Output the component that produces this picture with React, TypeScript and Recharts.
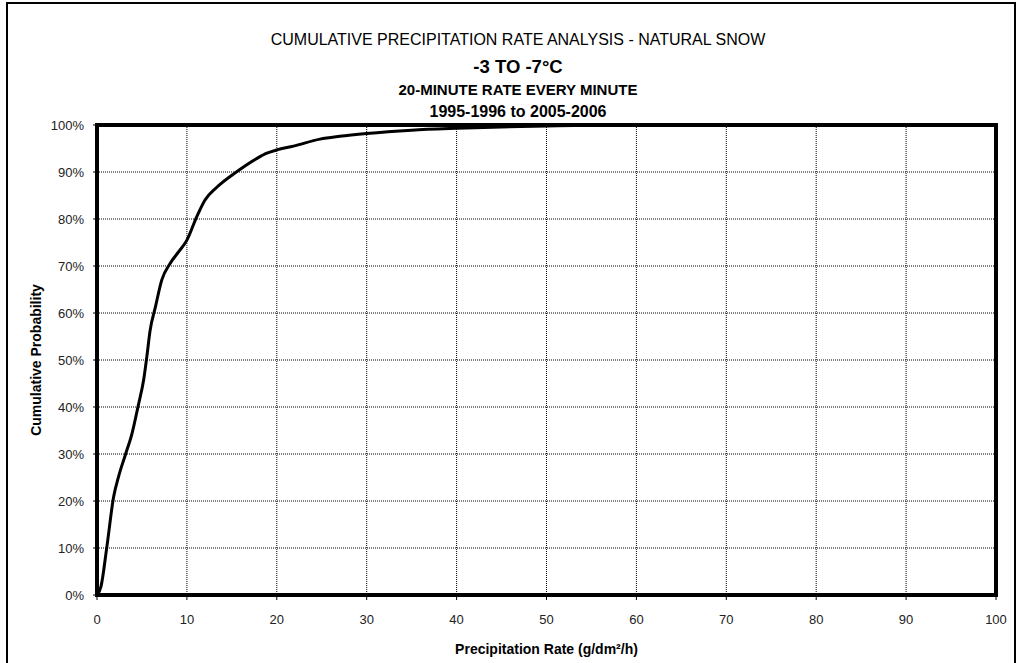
import { CartesianGrid, Line, LineChart, ReferenceArea, XAxis, YAxis } from 'recharts';

// precipitation rate (g/dm²/h) and cumulative probability (%)
const rate = [0, 0.44, 1.1, 1.85, 2.4, 3.15, 3.9, 4.6, 5.2, 5.55, 5.9, 6.5, 7.2, 8.15, 9.07, 10, 11.1, 12, 13.3, 15.5, 17.8, 18.9, 20, 21.85, 24.8, 27, 30, 35, 40, 45, 50, 55, 58];
const probability = [0, 1.8, 10.3, 20.9, 25.2, 29.8, 34.4, 40.4, 45.9, 50.8, 56.2, 61.3, 67, 70.6, 73, 75.5, 80.5, 84, 86.7, 90, 92.9, 94, 94.7, 95.5, 97, 97.6, 98.2, 98.9, 99.3, 99.6, 99.8, 99.95, 100];

const xTicks = [0, 10, 20, 30, 40, 50, 60, 70, 80, 90, 100];
const yTicks = [0, 10, 20, 30, 40, 50, 60, 70, 80, 90, 100];

const titles = [
    'CUMULATIVE PRECIPITATION RATE ANALYSIS - NATURAL SNOW',
    '-3 TO -7°C',
    '20-MINUTE RATE EVERY MINUTE',
    '1995-1996 to 2005-2006'
];

const data = rate.map((r, i) => ({ rate: r, prob: probability[i] }));

const font = 'Arial, "Liberation Sans", sans-serif';

const titleStyle = (top: number, size: number, bold: boolean) => ({
    position: 'absolute' as const,
    left: 0,
    width: 1036,
    top: top - 12,
    height: 24,
    lineHeight: '24px',
    textAlign: 'center' as const,
    fontSize: size,
    fontWeight: bold ? 'bold' : 'normal',
    whiteSpace: 'nowrap' as const
});

export default function App() {
    return (
        <div style={{ position: 'absolute', left: 0, top: 0, width: 1016, height: 663, overflow: 'hidden', background: '#fff', fontFamily: font }}>
            <div style={{ position: 'absolute', left: 6, top: 2, width: 1006, height: 700, border: '2px solid #000' }} />
            <div style={titleStyle(40, 16, false)}>{titles[0]}</div>
            <div style={titleStyle(67, 18.5, true)}>{titles[1]}</div>
            <div style={titleStyle(90, 15, true)}>{titles[2]}</div>
            <div style={titleStyle(112, 16, true)}>{titles[3]}</div>
            <div style={{ position: 'absolute', left: 0, top: 0 }}>
                <LineChart width={1016} height={663} data={data} margin={{ top: 125, right: 20, left: 37, bottom: 8 }}>
                    <CartesianGrid stroke="#000" strokeDasharray="1 1" strokeWidth={1} />
                    <XAxis
                        dataKey="rate"
                        type="number"
                        domain={[0, 100]}
                        ticks={xTicks}
                        height={60}
                        tickSize={5}
                        tickMargin={15}
                        axisLine={{ stroke: '#000' }}
                        tickLine={{ stroke: '#000' }}
                        tick={{ fill: '#222', fontSize: 13, fontFamily: font }}
                        label={{ value: 'Precipitation Rate (g/dm²/h)', position: 'insideBottom', offset: 1, fill: '#000', fontSize: 14, fontWeight: 'bold', fontFamily: font }}
                    />
                    <YAxis
                        type="number"
                        domain={[0, 100]}
                        ticks={yTicks}
                        width={60}
                        tickSize={4}
                        tickMargin={9}
                        tickFormatter={(v: number) => `${v}%`}
                        axisLine={{ stroke: '#000' }}
                        tickLine={{ stroke: '#000' }}
                        tick={{ fill: '#222', fontSize: 13, fontFamily: font }}
                        label={{ value: 'Cumulative Probability', angle: -90, position: 'insideLeft', offset: 0, dx: -1, fill: '#000', fontSize: 14, fontWeight: 'bold', fontFamily: font, style: { textAnchor: 'middle' } }}
                    />
                    <ReferenceArea x1={0} x2={100} y1={0} y2={100} fill="none" stroke="#000" strokeWidth={4} ifOverflow="visible" />
                    <Line type="monotone" dataKey="prob" stroke="#000" strokeWidth={3} dot={false} isAnimationActive={false} />
                </LineChart>
            </div>
        </div>
    );
}
